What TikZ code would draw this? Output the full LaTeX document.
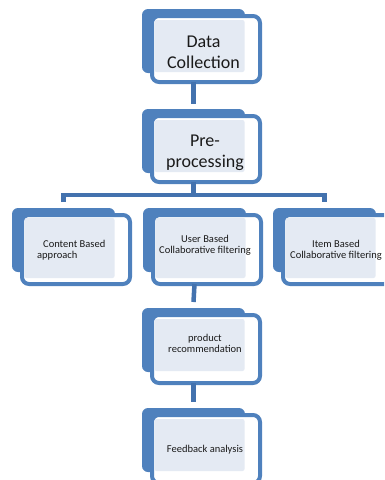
\documentclass[tikz,border=0pt]{standalone}
\usepackage{fontspec}
\setmainfont{Carlito}
\definecolor{bblue}{HTML}{4F81BD}
\definecolor{cblue}{HTML}{4372AE}
\definecolor{pfill}{HTML}{E4EAF3}
\definecolor{txt}{HTML}{1A1A1A}
\newcommand\stagebox[6]{%
  \node[backshape] (b#1) at (#2,#3) {};
  \node[frontbox, minimum height=#4pt] (f#1) at (#2+10,#3+7) {};
  \node[pattbox, minimum height=#5pt] (p#1) at (#2+12.5,#3+#6) {};
}
\begin{document}
\begin{tikzpicture}[x=1pt,y=-1pt,
  backshape/.style={fill=bblue, rounded corners=6pt, inner sep=0pt, outer sep=0pt,
    minimum width=103pt, minimum height=64pt, anchor=north west},
  frontbox/.style={draw=bblue, line width=4pt, fill=white, rounded corners=7pt,
    inner sep=0pt, outer sep=0pt, minimum width=108pt, anchor=north west},
  pattbox/.style={fill=pfill, rounded corners=2pt, inner sep=0pt, outer sep=0pt,
    minimum width=90pt, anchor=north west},
  conn/.style={draw=cblue, line width=4.5pt},
  bigtxt/.style={font=\fontsize{18}{20.5}\selectfont, text=txt, inner sep=0pt, align=center},
  smalltxt/.style={font=\fontsize{10.5}{11}\selectfont, text=txt, inner sep=0pt},
]
\useasboundingbox (0,0) rectangle (384,480);
\clip (0,0) rectangle (384,480);

\stagebox{1}{142}{9}{66}{52}{11}
\stagebox{2}{142}{109}{66}{52}{11}
\stagebox{3}{12}{208}{69}{60}{10}
\stagebox{4}{143}{208}{69}{60}{10}
\stagebox{5}{273}{208}{69}{60}{10}
\stagebox{6}{142}{308}{68}{52}{11}
\stagebox{7}{142}{408}{68}{52}{11}

% texts (base anchor = baseline of the last line)
\node[bigtxt, anchor=base] (t1) at (203.5,68) {Data\\Collection};
\node[bigtxt, anchor=base] (t2) at (205,167) {Pre-\\processing};
\node[smalltxt, anchor=base west, align=left] (t3) at (37,258.5) {\hspace*{6pt}Content Based\\approach};
\node[smalltxt, anchor=base, align=center] (t4) at (205,253.5) {User Based\\Collaborative filtering};
\node[smalltxt, anchor=base, align=center] (t5) at (336,258.5) {Item Based\\Collaborative filtering};
\node[smalltxt, anchor=base, align=center] (t6) at (205,352) {product\\recommendation};
\node[smalltxt, anchor=base] (t7) at (205,452) {Feedback analysis};

% connectors
\coordinate (busy) at (0,195);
\draw[conn] (b1.south |- f1.south) -- ([yshift=5pt]b2.north);
\draw[conn] (b2.south |- f2.south) -- (b2.south |- busy);
\draw[conn, line join=miter] ([yshift=6pt]b3.north) -- (b3.north |- busy) -- (b5.north |- busy) -- ([yshift=6pt]b5.north);
\draw[conn] (b4.south |- f4.south) -- ([yshift=6pt]b6.north);
\draw[conn] (b6.south |- f6.south) -- ([yshift=6pt]b7.north);
\end{tikzpicture}
\end{document}
